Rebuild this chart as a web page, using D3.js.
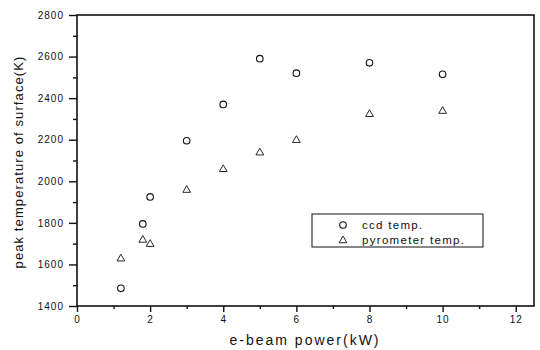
<!DOCTYPE html>
<html>
<head>
<meta charset="utf-8">
<script src="https://cdn.jsdelivr.net/npm/d3@7"></script>
<style>
  body { margin: 0; background: #fff; }
  svg text { font-family: "Liberation Sans", Arial, sans-serif; fill: #111; }
</style>
</head>
<body>
<svg id="chart" width="540" height="350"></svg>
<script>
// data
const power = [1.2, 1.8, 2.0, 3.0, 4.0, 5.0, 6.0, 8.0, 10.0];
const ccdTemp = [1485, 1795, 1925, 2195, 2370, 2590, 2520, 2570, 2515];
const pyroTemp = [1630, 1720, 1700, 1960, 2060, 2140, 2200, 2325, 2340];
const xTicks = [0, 2, 4, 6, 8, 10, 12];
const yTicks = [1400, 1600, 1800, 2000, 2200, 2400, 2600, 2800];
const legendLabels = ["ccd temp.", "pyrometer temp."];

const margin = { top: 15, right: 6, bottom: 44, left: 77 };
const width = 540, height = 350;

const svg = d3.select("#chart");

const x = d3.scaleLinear().domain([0, 12.5]).range([margin.left, width - margin.right]);
const y = d3.scaleLinear().domain([1400, 2800]).range([height - margin.bottom, margin.top]);

// frame
svg.append("rect")
  .attr("x", x(0)).attr("y", y(2800))
  .attr("width", x(12.5) - x(0)).attr("height", y(1400) - y(2800))
  .attr("fill", "none").attr("stroke", "#111").attr("stroke-width", 1.6);

// minor ticks
const xMinor = d3.range(1, 13, 2);
const yMinor = d3.range(1500, 2800, 200);

svg.append("g")
  .attr("transform", `translate(0,${y(1400)})`)
  .call(d3.axisBottom(x).tickValues(xMinor).tickSize(3).tickFormat(""))
  .call(g => g.select(".domain").remove());

svg.append("g")
  .attr("transform", `translate(${x(0)},0)`)
  .call(d3.axisLeft(y).tickValues(yMinor).tickSize(4).tickFormat(""))
  .call(g => g.select(".domain").remove());

// major axes
const xAxis = svg.append("g")
  .attr("transform", `translate(0,${y(1400)})`)
  .call(d3.axisBottom(x).tickValues(xTicks).tickSize(6).tickPadding(4).tickFormat(d3.format("d")));

const yAxis = svg.append("g")
  .attr("transform", `translate(${x(0)},0)`)
  .call(d3.axisLeft(y).tickValues(yTicks).tickSize(8).tickPadding(5).tickFormat(d3.format("d")));

[xAxis, yAxis].forEach(a => {
  a.select(".domain").remove();
  a.selectAll(".tick text")
    .style("font-size", "10px")
    .style("letter-spacing", "1px")
    .attr("fill", "#111");
});
svg.selectAll(".tick line").attr("stroke", "#111").attr("stroke-width", 1.4);

// axis titles
svg.append("text")
  .attr("x", 305).attr("y", 345)
  .attr("text-anchor", "middle")
  .style("font-size", "14px")
  .style("letter-spacing", "2px")
  .text("e-beam power(kW)");

svg.append("text")
  .attr("transform", "translate(23,162) rotate(-90)")
  .attr("text-anchor", "middle")
  .style("font-size", "13px")
  .style("letter-spacing", "1.1px")
  .text("peak temperature of surface(K)");

// markers
const tri = d3.symbol().type(d3.symbolTriangle).size(26);

svg.append("g").selectAll("circle")
  .data(power.map((p, i) => [p, ccdTemp[i]]))
  .join("circle")
  .attr("cx", d => x(d[0])).attr("cy", d => y(d[1]))
  .attr("r", 3.3)
  .attr("fill", "none").attr("stroke", "#111").attr("stroke-width", 1.1);

svg.append("g").selectAll("path")
  .data(power.map((p, i) => [p, pyroTemp[i]]))
  .join("path")
  .attr("d", tri)
  .attr("transform", d => `translate(${x(d[0])},${y(d[1]) + 0.5})`)
  .attr("fill", "none").attr("stroke", "#111").attr("stroke-width", 0.9);

// legend
const legend = svg.append("g").attr("transform", "translate(312,214)");
legend.append("rect")
  .attr("width", 171).attr("height", 33)
  .attr("fill", "#fff").attr("stroke", "#111").attr("stroke-width", 1);

legendLabels.forEach((label, i) => {
  const ly = 11 + i * 15;
  if (i === 0) {
    legend.append("circle").attr("cx", 31).attr("cy", ly).attr("r", 3.3)
      .attr("fill", "none").attr("stroke", "#111").attr("stroke-width", 1.1);
  } else {
    legend.append("path").attr("d", tri)
      .attr("transform", `translate(31,${ly + 0.5})`)
      .attr("fill", "none").attr("stroke", "#111").attr("stroke-width", 0.9);
  }
  legend.append("text")
    .attr("x", 50).attr("y", ly + 4)
    .style("font-size", "11.5px")
    .style("letter-spacing", "1.3px")
    .text(label);
});
</script>
</body>
</html>
